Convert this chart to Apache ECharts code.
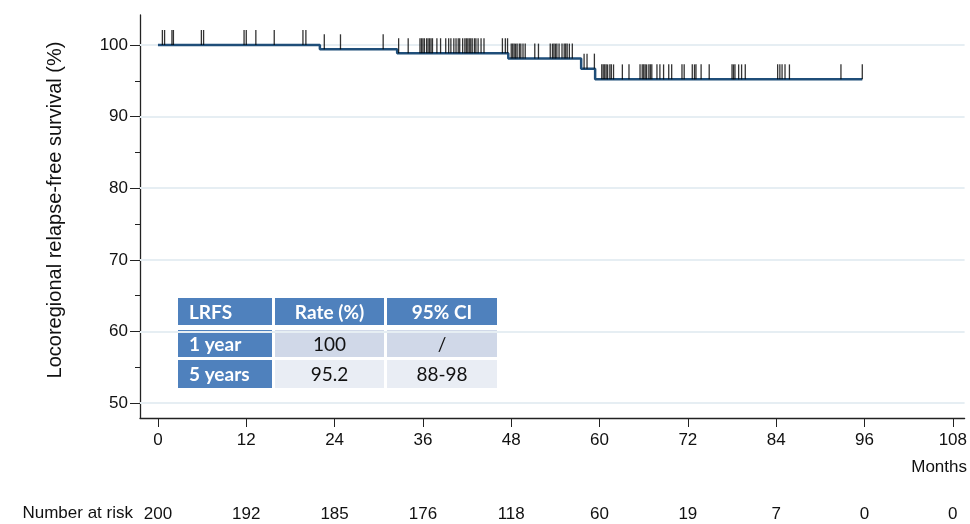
<!DOCTYPE html>
<html>
<head>
<meta charset="utf-8">
<script src="https://cdn.jsdelivr.net/npm/echarts@6/dist/echarts.min.js"></script>
<style>
html,body{margin:0;padding:0;background:#fff;}
#chart{width:970px;height:524px;}
</style>
</head>
<body>
<div id="chart"></div>
<script>
// ---- data ----
const monthTicks = [0, 12, 24, 36, 48, 60, 72, 84, 96, 108];
const atRisk = [200, 192, 185, 176, 118, 60, 19, 7, 0, 0];
const yTicks = [50, 60, 70, 80, 90, 100];
const yMinorTicks = [55, 65, 75, 85, 95];
const kmTimes = [0, 22, 32.5, 47.6, 57.5, 59.4, 95.7];
const kmSurv = [100, 99.4, 98.85, 98.1, 96.7, 95.2, 95.2];
const censorTimes = [
  0.6, 0.9, 1.9, 2.1, 5.9, 6.2, 11.7, 12.0, 13.3, 15.8, 19.7, 20.1,
  22.6, 24.8, 30.6, 32.7, 34.0, 35.6, 35.8, 36.0, 36.2, 36.5, 36.7, 36.9,
  37.1, 37.3, 37.9, 38.4, 39.1, 39.5, 39.8, 40.2, 40.5, 40.8, 41.0, 41.4,
  41.7, 41.9, 42.1, 42.3, 42.5, 42.7, 43.0, 43.2, 43.5, 43.9, 44.3,
  46.8, 47.2, 47.5, 48.0, 48.2, 48.4, 48.6, 48.8, 49.1, 49.3, 49.6, 49.9,
  51.2, 51.7, 53.3, 53.6, 53.8, 54.0, 54.2, 54.5, 54.9, 55.2, 55.4, 55.6,
  55.9, 56.3, 57.9, 58.3, 59.3, 60.3, 60.5, 60.7, 60.9, 61.1, 61.4, 61.6,
  61.9, 63.1, 64.0, 65.5, 65.8, 66.0, 66.2, 66.4, 66.7, 66.9, 67.1, 67.8,
  68.2, 68.7, 69.4, 69.8, 71.2, 71.5, 72.6, 72.9, 73.1, 73.8, 74.9, 78.0,
  78.2, 78.4, 78.9, 79.3, 79.8, 84.2, 84.5, 84.8, 85.2, 85.8, 92.8, 95.7
];
const tableHeader = ['LRFS', 'Rate (%)', '95% CI'];
const tableRows = [
  ['1 year', '100', '/'],
  ['5 years', '95.2', '88-98']
];
const yAxisTitle = 'Locoregional relapse-free survival (%)';
const xAxisTitle = 'Months';
const riskTitle = 'Number at risk';

// ---- helpers ----
function survAt(t) {
  let s = kmSurv[0];
  for (let i = 0; i < kmTimes.length; i++) { if (kmTimes[i] <= t) s = kmSurv[i]; }
  return s;
}
const kmData = kmTimes.map((t, i) => [t, kmSurv[i]]);
const censorData = censorTimes.map(t => [t, survAt(t)]);

// ---- table graphic ----
const colX = [178, 275, 387], colW = [94, 109, 110];
const rowY = [298, 330, 360], rowH = [27, 27, 28];
const blue = '#4f81bd', light1 = '#d0d8e8', light2 = '#e9edf4';
const tableGraphics = [];
const allRows = [tableHeader].concat(tableRows);
allRows.forEach((row, r) => {
  row.forEach((txt, c) => {
    const isBlue = r === 0 || c === 0;
    const fill = isBlue ? blue : (r === 1 ? light1 : light2);
    tableGraphics.push({
      type: 'rect', silent: true,
      shape: { x: colX[c], y: rowY[r], width: colW[c], height: rowH[r] },
      style: { fill: fill }
    });
    const leftAlign = c === 0;
    tableGraphics.push({
      type: 'text', silent: true,
      x: leftAlign ? colX[c] + 11 : colX[c] + colW[c] / 2,
      y: rowY[r] + rowH[r] / 2 + 1,
      style: {
        text: txt,
        align: leftAlign ? 'left' : 'center',
        verticalAlign: 'middle',
        fill: isBlue ? '#ffffff' : '#111111',
        font: (isBlue ? 'bold 19px ' : '19px ') + 'Lato, "Open Sans", sans-serif'
      }
    });
  });
});

const FONT = '"Liberation Sans", Arial, sans-serif';
const chart = echarts.init(document.getElementById('chart'));
chart.setOption({
  animation: false,
  backgroundColor: '#ffffff',
  grid: { left: 140, right: 3, top: 15, bottom: 106, containLabel: false },
  xAxis: [{
    type: 'value', min: -2.44, max: 109.6,
    axisLine: { show: true, onZero: false, lineStyle: { color: '#222', width: 1.3 } },
    axisTick: { show: true, length: 9, customValues: monthTicks, lineStyle: { color: '#222' } },
    axisLabel: { customValues: monthTicks, margin: 14, fontSize: 17, color: '#111', fontFamily: FONT },
    splitLine: { show: false }
  }, {
    type: 'value', min: -2.44, max: 109.6, position: 'bottom', offset: 76,
    axisLine: { show: false, onZero: false }, axisTick: { show: false }, splitLine: { show: false },
    axisLabel: {
      customValues: monthTicks, margin: 12, fontSize: 17, color: '#111', fontFamily: FONT,
      formatter: v => { const i = monthTicks.indexOf(v); return i >= 0 ? String(atRisk[i]) : ''; }
    }
  }],
  yAxis: [{
    type: 'value', min: 47.91, max: 104.19,
    axisLine: { show: true, onZero: false, lineStyle: { color: '#222', width: 1.3 } },
    axisTick: { show: true, length: 10, customValues: yTicks, lineStyle: { color: '#222' } },
    axisLabel: { customValues: yTicks, margin: 12, fontSize: 17, color: '#111', fontFamily: FONT },
    splitLine: { show: false }
  }, {
    type: 'value', min: 47.91, max: 104.19, position: 'left',
    axisLine: { show: false, onZero: false }, axisLabel: { show: false }, splitLine: { show: false },
    axisTick: { show: true, length: 5, customValues: yMinorTicks, lineStyle: { color: '#222' } }
  }],
  series: [{
    type: 'line', name: 'LRFS', step: 'end', data: kmData, showSymbol: false, symbol: 'none',
    lineStyle: { color: '#1f4e79', width: 2.5 }, z: 3,
    markLine: {
      silent: true, symbol: 'none', z: 1,
      label: { show: false },
      lineStyle: { color: '#e6eef3', width: 2, type: 'solid' },
      data: yTicks.map(v => ({ yAxis: v }))
    }
  }, {
    type: 'scatter', name: 'Censored', data: censorData,
    symbol: 'rect', symbolSize: [1.3, 15], symbolOffset: [0, -7.5],
    itemStyle: { color: '#000' }, z: 4
  }],
  graphic: tableGraphics.concat([
    { type: 'text', silent: true, x: 55, y: 210, rotation: Math.PI / 2,
      style: { text: yAxisTitle, align: 'center', verticalAlign: 'middle', fill: '#111', font: '20px ' + FONT } },
    { type: 'text', silent: true, x: 967, y: 467,
      style: { text: xAxisTitle, align: 'right', verticalAlign: 'middle', fill: '#111', font: '17px ' + FONT } },
    { type: 'text', silent: true, x: 133, y: 513,
      style: { text: riskTitle, align: 'right', verticalAlign: 'middle', fill: '#111', font: '17px ' + FONT } }
  ])
});
</script>
</body>
</html>
